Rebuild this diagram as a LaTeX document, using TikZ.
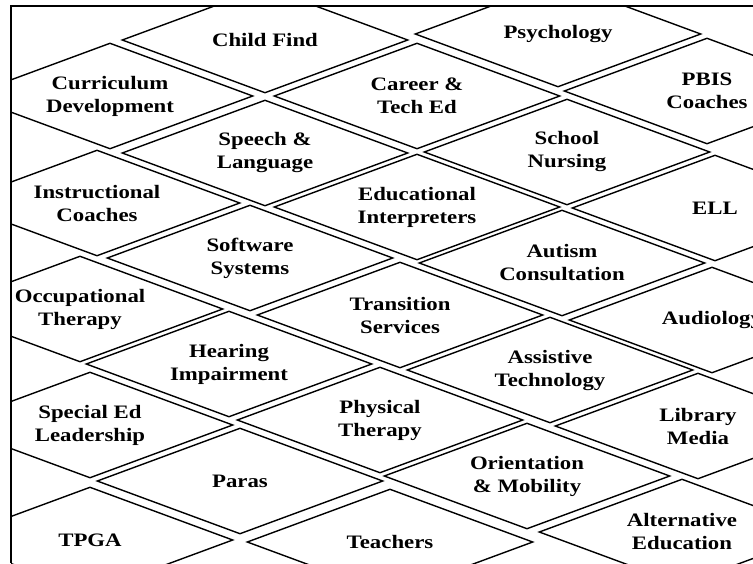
\documentclass[tikz,border=0pt]{standalone}
\usepackage{fontspec}
\newfontfamily\tilefont{Liberation Serif}[FakeStretch=1.2]
\usetikzlibrary{shapes.geometric}

\begin{document}
\begin{tikzpicture}[x=1pt,y=-1pt,
  service/.style={diamond,shape aspect=2.7,draw=black,line width=1.4pt,minimum width=286pt,minimum height=106pt,inner sep=0pt,align=center,font=\tilefont\bfseries\fontsize{19}{23}\selectfont}]
\useasboundingbox (0,0) rectangle (753,563);
\begin{scope}
\clip (11,6) rectangle (753,563);
% first column, cut by the frame
\node[service] (curriculum) at (110,96) {Curriculum\\Development};
\node[service] (instructional) at (97,203) {Instructional\\Coaches};
\node[service] (occupational) at (80,309) {Occupational\\Therapy};
\node[service] (specialed) at (90,425) {Special Ed\\Leadership};
\node[service] (tpga) at (90,540) {TPGA};
% second column
\node[service] (childfind) at (265,40) {Child Find};
\node[service] (speech) at (265,153) {Speech \&\\Language};
\node[service] (software) at (250,258) {Software\\Systems};
\node[service] (hearing) at (229,364) {Hearing\\Impairment};
\node[service] (paras) at (240,481) {Paras};
% third column
\node[service] (career) at (417,96) {Career \&\\Tech Ed};
\node[service] (interpreters) at (417,207) {Educational\\Interpreters};
\node[service] (transition) at (400,315) {Transition\\Services};
\node[service] (physical) at (380,420) {Physical\\Therapy};
\node[service] (teachers) at (390,542) {Teachers};
% fourth column
\node[service] (psychology) at (558,34) {Psychology};
\node[service] (nursing) at (567,152) {School\\Nursing};
\node[service] (autism) at (562,263) {Autism\\Consultation};
\node[service] (assistive) at (550,370) {Assistive\\Technology};
\node[service] (orientation) at (527,476) {Orientation\\\& Mobility};
% last column, runs off the page
\node[service] (pbis) at (707,91) {PBIS\\Coaches};
\node[service] (ell) at (715,208) {ELL};
\node[service] (audiology) at (712,320) {Audiology};
\node[service] (library) at (698,426) {Library\\Media};
\node[service] (alternative) at (682,532) {Alternative\\Education};
\end{scope}

\draw[black,line width=2.6pt] (11,563) -- (11,6) -- (753,6);
\end{tikzpicture}
\end{document}
